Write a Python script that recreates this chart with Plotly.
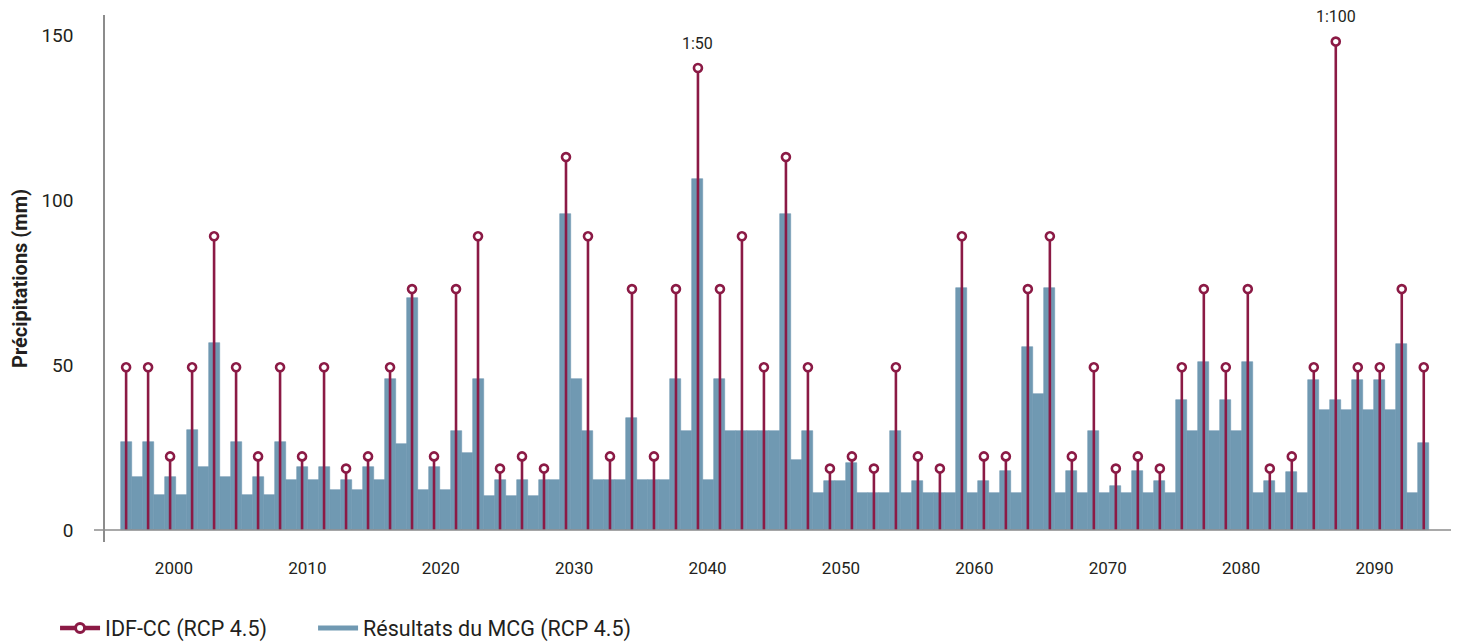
import plotly.graph_objects as go

# ---------------- data ----------------
# Résultats du MCG (RCP 4.5): 119 consecutive model values, mm, left to right
mcg = [26.7, 16.2, 26.7, 10.5, 16.0, 10.5, 30.3, 19.2, 56.6, 16.2,
       26.7, 10.5, 16.0, 10.5, 26.7, 15.2, 19.2, 15.2, 19.2, 12.2,
       15.2, 12.2, 19.2, 15.2, 45.7, 26.0, 70.3, 12.2, 19.2, 12.2,
       30.1, 23.4, 45.7, 10.4, 15.2, 10.4, 15.2, 10.4, 15.2, 15.2,
       95.7, 45.7, 30.1, 15.2, 15.2, 15.2, 33.8, 15.2, 15.2, 15.2,
       45.7, 30.1, 106.3, 15.2, 45.7, 30.1, 30.1, 30.1, 30.1, 30.1,
       95.7, 21.2, 30.1, 11.3, 14.9, 14.9, 20.2, 11.3, 11.3, 11.3,
       30.1, 11.3, 14.9, 11.3, 11.3, 11.3, 73.2, 11.3, 14.9, 11.3,
       18.0, 11.3, 55.5, 41.2, 73.2, 11.3, 18.0, 11.3, 30.1, 11.3,
       13.3, 11.3, 18.0, 11.3, 14.7, 11.1, 39.3, 30.1, 51.0, 30.1,
       39.3, 30.1, 51.0, 11.1, 14.7, 11.1, 17.6, 11.1, 45.5, 36.4,
       39.3, 36.4, 45.5, 36.4, 45.5, 36.4, 56.5, 11.1, 26.5]

# IDF-CC (RCP 4.5): one value for every second model step (steps 1, 3, 5, ... 119)
idf = [49.3, 49.3, 22.3, 49.3, 89.0, 49.3, 22.3, 49.3, 22.3, 49.3,
       18.6, 22.3, 49.3, 73.0, 22.3, 73.0, 89.0, 18.6, 22.3, 18.6,
       113.0, 89.0, 22.3, 73.0, 22.3, 73.0, 140.0, 73.0, 89.0, 49.3,
       113.0, 49.3, 18.6, 22.3, 18.6, 49.3, 22.3, 18.6, 89.0, 22.3,
       22.3, 73.0, 89.0, 22.3, 49.3, 18.6, 22.3, 18.6, 49.3, 73.0,
       49.3, 73.0, 18.6, 22.3, 49.3, 148.0, 49.3, 49.3, 73.0, 49.3]
idf_steps = list(range(1, 120, 2))

# return-period labels: (model step, label)
return_labels = [(53, "1:50"), (111, "1:100")]

# time span covered by the model steps on the year axis
span_start, span_end = 1996.0, 2094.1
year_ticks = [2000, 2010, 2020, 2030, 2040, 2050, 2060, 2070, 2080, 2090]
y_ticks = [0, 50, 100, 150]

# ---------------- styling ----------------
BLUE = "#7099B2"
MAROON = "#8B1A45"
AXIS = "#8C8C8C"
TEXT = "#231F20"
FONT = "Roboto, 'Open Sans', sans-serif"

n = len(mcg)
step = (span_end - span_start) / n
x_bar = [span_start + (i + 0.5) * step for i in range(n)]
x_idf = [x_bar[k - 1] for k in idf_steps]

stem_x, stem_y = [], []
for xv, yv in zip(x_idf, idf):
    stem_x += [xv, xv, None]
    stem_y += [0, yv, None]

fig = go.Figure()
fig.add_trace(go.Bar(
    x=x_bar, y=mcg, width=step,
    marker=dict(color=BLUE, line=dict(color=BLUE, width=0.6)),
    showlegend=False, name="Résultats du MCG (RCP 4.5)",
))
fig.add_trace(go.Scatter(
    x=stem_x, y=stem_y, mode="lines",
    line=dict(color=MAROON, width=2.6),
    showlegend=False, hoverinfo="skip",
))
fig.add_trace(go.Scatter(
    x=x_idf, y=idf, mode="markers",
    marker=dict(symbol="circle", size=8, color="white",
                line=dict(color=MAROON, width=2.6)),
    showlegend=False, name="IDF-CC (RCP 4.5)",
))
# legend entries
fig.add_trace(go.Scatter(
    x=[None], y=[None], mode="lines+markers", name="IDF-CC (RCP 4.5)",
    line=dict(color=MAROON, width=4.5),
    marker=dict(symbol="circle", size=9, color="white",
                line=dict(color=MAROON, width=3)),
    legend="legend",
))
fig.add_trace(go.Scatter(
    x=[None], y=[None], mode="lines", name="Résultats du MCG (RCP 4.5)",
    line=dict(color=BLUE, width=5),
    legend="legend2",
))

for s, label in return_labels:
    fig.add_annotation(
        x=x_bar[s - 1], y=idf[idf_steps.index(s)], text=label,
        showarrow=False, yanchor="middle", yshift=25, borderpad=0,
        font=dict(family=FONT, size=16, color=TEXT),
    )

# x axis line (extends a little left of the y axis)
fig.add_shape(type="line", xref="paper", yref="y",
              x0=-11 / 1346, x1=1, y0=0, y1=0,
              line=dict(color=AXIS, width=1.5), layer="above")

legend_common = dict(orientation="h", yanchor="middle", xanchor="left",
                     xref="container", yref="container",
                     font=dict(size=21.5, color=TEXT), itemwidth=40,
                     bgcolor="rgba(0,0,0,0)")
# the page body adds an 8 px offset, so the figure is sized to fit the window
fig.update_layout(
    width=1452, height=635,
    margin=dict(l=97, r=9, t=7, b=101, autoexpand=False),
    plot_bgcolor="white", paper_bgcolor="white",
    bargap=0,
    font=dict(family=FONT, color=TEXT),
    legend=dict(x=0.0324, y=0.0236, **legend_common),
    legend2=dict(x=0.2101, y=0.0236, **legend_common),
)
fig.update_xaxes(
    range=[1994.83, 2095.73], tickvals=year_ticks,
    showgrid=False, zeroline=False, showline=False, ticks="",
    tickfont=dict(size=17, color=TEXT), ticklabelstandoff=14,
    automargin=False,
)
fig.update_yaxes(
    range=[-3.64, 156.06], tickvals=y_ticks,
    showgrid=False, zeroline=False,
    showline=True, linecolor=AXIS, linewidth=1.5,
    ticks="", tickfont=dict(size=19, color=TEXT), ticklabelstandoff=26,
    title=dict(text="<b>Précipitations (mm)</b>",
               font=dict(size=20, color=TEXT), standoff=18),
    automargin=False,
)

fig.write_html("out.html")
